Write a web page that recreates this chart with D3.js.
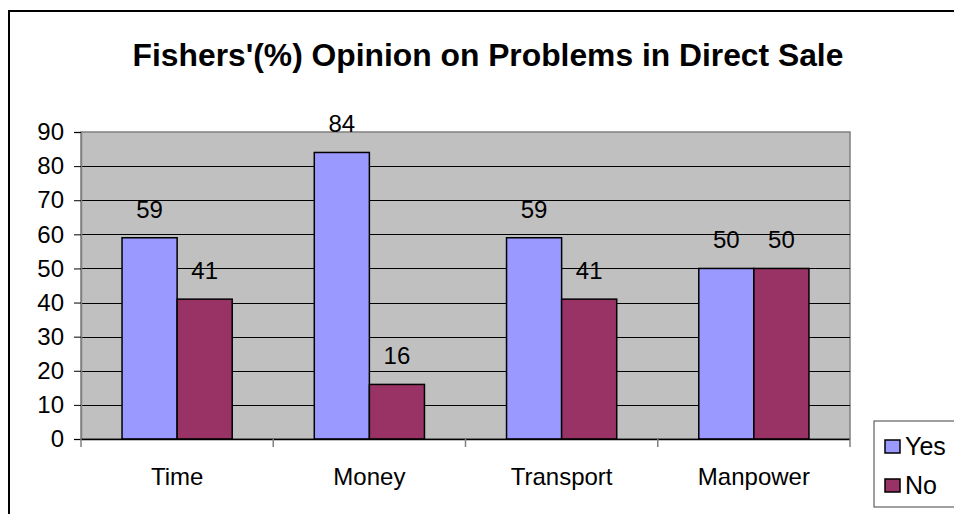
<!DOCTYPE html>
<html>
<head>
<meta charset="utf-8">
<script src="https://cdn.jsdelivr.net/npm/d3@7"></script>
<style>
  body { margin: 0; background: #fff; }
  text { font-family: Arial, "Liberation Sans", sans-serif; }
</style>
</head>
<body>
<div id="chart"></div>
<script>
const categories = ["Time", "Money", "Transport", "Manpower"];
const seriesNames = ["Yes", "No"];
const yesValues = [59, 84, 59, 50];
const noValues = [41, 16, 41, 50];
const yTicks = [0, 10, 20, 30, 40, 50, 60, 70, 80, 90];
const colors = ["#9999FF", "#993366"];

const width = 954, height = 514;
const plot = { left: 81, right: 850, top: 132, bottom: 439 };

const svg = d3.select("#chart")
    .append("svg")
    .attr("width", width)
    .attr("height", height);

// outer chart frame (right and bottom run off the picture)
svg.append("rect")
    .attr("x", 9).attr("y", 11)
    .attr("width", 1000).attr("height", 600)
    .attr("fill", "white")
    .attr("stroke", "black")
    .attr("stroke-width", 2);

svg.append("text")
    .attr("x", 488).attr("y", 66)
    .attr("text-anchor", "middle")
    .attr("font-size", 31.8)
    .attr("font-weight", "bold")
    .text("Fishers'(%) Opinion on Problems in Direct Sale");

const x0 = d3.scaleBand()
    .domain(categories)
    .range([plot.left, plot.right])
    .paddingInner(0)
    .paddingOuter(0);

const x1 = d3.scaleBand()
    .domain(seriesNames)
    .range([0, x0.bandwidth()])
    .paddingOuter(0.745)
    .paddingInner(0);

const y = d3.scaleLinear()
    .domain([0, 90])
    .range([plot.bottom, plot.top]);

// plot background
svg.append("rect")
    .attr("x", plot.left).attr("y", plot.top)
    .attr("width", plot.right - plot.left)
    .attr("height", plot.bottom - plot.top)
    .attr("fill", "#C0C0C0")
    .attr("stroke", "#808080")
    .attr("stroke-width", 1.5);

// gridlines
svg.append("g")
    .selectAll("line")
    .data(yTicks.filter(d => d > 0 && d < 90))
    .enter()
    .append("line")
    .attr("x1", plot.left).attr("x2", plot.right)
    .attr("y1", d => Math.round(y(d)) + 0.5)
    .attr("y2", d => Math.round(y(d)) + 0.5)
    .attr("stroke", "black");

// y axis
const yAxis = svg.append("g")
    .attr("transform", `translate(${plot.left},0)`)
    .call(d3.axisLeft(y).tickValues(yTicks).tickSize(7).tickPadding(10));
yAxis.select(".domain").attr("stroke", "#808080").attr("stroke-width", 1.5);
yAxis.selectAll(".tick line").attr("stroke", "black");
yAxis.selectAll("text")
    .attr("font-size", 24)
    .attr("fill", "black")
    .attr("font-family", "Arial, 'Liberation Sans', sans-serif");

// bars
const groups = svg.append("g")
    .selectAll("g")
    .data(categories)
    .enter()
    .append("g")
    .attr("transform", d => `translate(${x0(d)},0)`);

const cells = groups.selectAll("g")
    .data((d, i) => [
        { s: "Yes", v: yesValues[i], c: colors[0] },
        { s: "No", v: noValues[i], c: colors[1] }
    ])
    .enter()
    .append("g");

cells.append("rect")
    .attr("x", d => x1(d.s))
    .attr("y", d => y(d.v))
    .attr("width", x1.bandwidth())
    .attr("height", d => y(0) - y(d.v))
    .attr("fill", d => d.c)
    .attr("stroke", "black")
    .attr("stroke-width", 1.5);

cells.append("text")
    .attr("x", d => x1(d.s) + x1.bandwidth() / 2)
    .attr("y", d => y(d.v) - 20)
    .attr("text-anchor", "middle")
    .attr("font-size", 24)
    .text(d => d.v);

// x axis
svg.append("line")
    .attr("x1", plot.left).attr("x2", plot.right)
    .attr("y1", plot.bottom + 0.5).attr("y2", plot.bottom + 0.5)
    .attr("stroke", "black")
    .attr("stroke-width", 1.5);

const boundaries = categories.map(c => x0(c)).concat([plot.right]);
svg.append("g")
    .selectAll("line")
    .data(boundaries)
    .enter()
    .append("line")
    .attr("x1", d => d).attr("x2", d => d)
    .attr("y1", plot.bottom).attr("y2", plot.bottom + 8)
    .attr("stroke", "#808080")
    .attr("stroke-width", 1.5);

svg.append("g")
    .selectAll("text")
    .data(categories)
    .enter()
    .append("text")
    .attr("x", d => x0(d) + x0.bandwidth() / 2)
    .attr("y", 485)
    .attr("text-anchor", "middle")
    .attr("font-size", 24)
    .text(d => d);

// legend
const legend = svg.append("g");
legend.append("rect")
    .attr("x", 874).attr("y", 421)
    .attr("width", 120).attr("height", 86)
    .attr("fill", "white")
    .attr("stroke", "#404040")
    .attr("stroke-width", 1);

const items = legend.selectAll("g")
    .data(seriesNames)
    .enter()
    .append("g")
    .attr("transform", (d, i) => `translate(885,${440 + i * 39})`);

items.append("rect")
    .attr("width", 15).attr("height", 13)
    .attr("fill", (d, i) => colors[i])
    .attr("stroke", "black")
    .attr("stroke-width", 1.5);

items.append("text")
    .attr("x", 20).attr("y", 15)
    .attr("font-size", 25)
    .text(d => d);
</script>
</body>
</html>
